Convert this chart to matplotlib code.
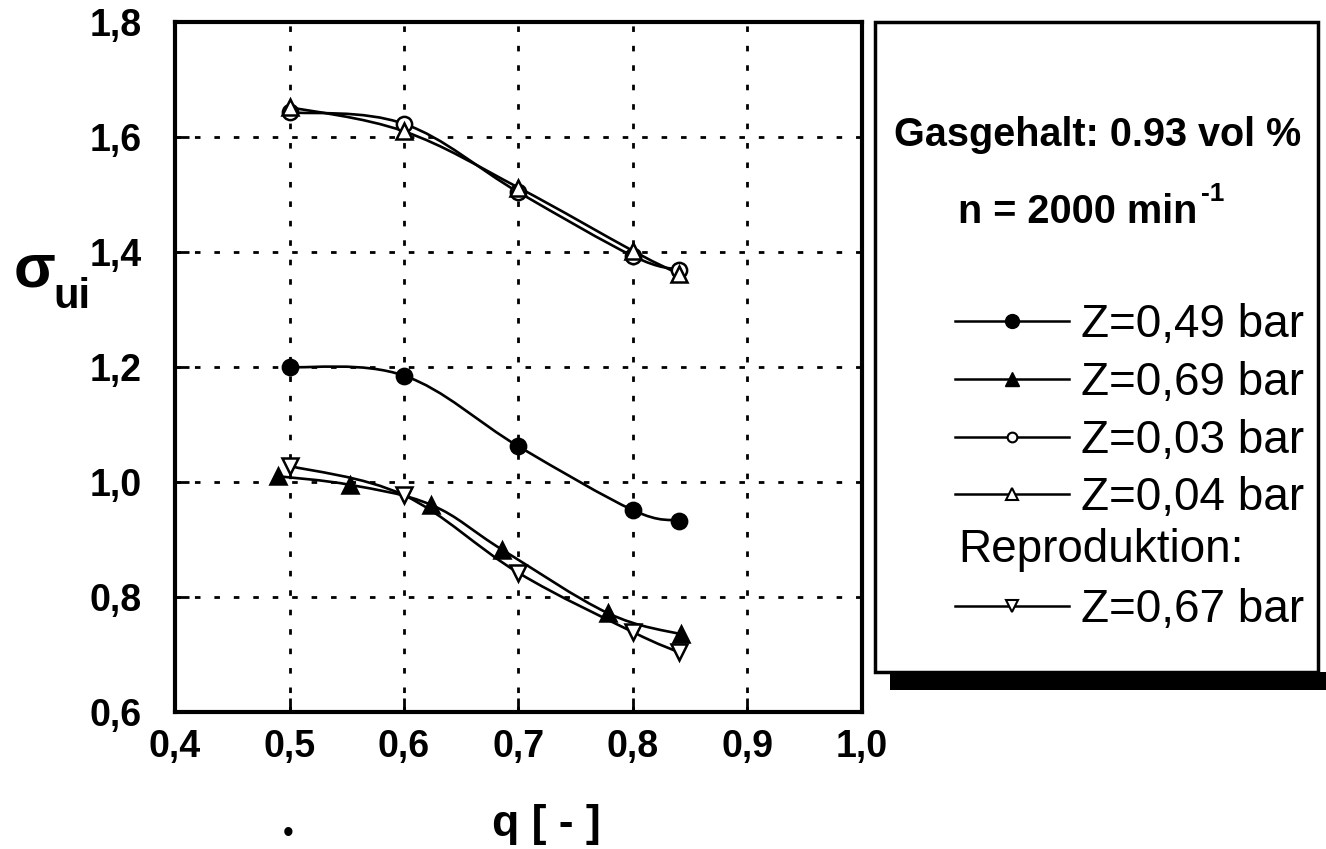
import matplotlib
matplotlib.use("Agg")
import matplotlib.pyplot as plt
from matplotlib.lines import Line2D
from matplotlib.patches import Rectangle, PathPatch
from matplotlib.path import Path

plt.rcParams['font.family'] = ['Liberation Sans', 'DejaVu Sans']

# values
q_049 = [0.50, 0.60, 0.70, 0.80, 0.84]
s_049 = [1.20, 1.185, 1.062, 0.951, 0.933]

q_069 = [0.49, 0.553, 0.624, 0.686, 0.778, 0.842]
s_069 = [1.010, 0.995, 0.960, 0.882, 0.772, 0.735]

q_003 = [0.50, 0.60, 0.70, 0.80, 0.84]
s_003 = [1.643, 1.623, 1.504, 1.393, 1.369]

q_004 = [0.50, 0.60, 0.70, 0.80, 0.84]
s_004 = [1.652, 1.610, 1.512, 1.402, 1.362]

q_067 = [0.50, 0.60, 0.70, 0.80, 0.84]
s_067 = [1.028, 0.977, 0.842, 0.739, 0.704]

xticks = [0.4, 0.5, 0.6, 0.7, 0.8, 0.9, 1.0]
yticks = [0.6, 0.8, 1.0, 1.2, 1.4, 1.6, 1.8]


def smooth_path(x, y, t=0.18):
    # cubic bezier through the points (Catmull-Rom style tangents)
    verts = [(x[0], y[0])]
    codes = [Path.MOVETO]
    n = len(x)
    for i in range(n - 1):
        x0, y0 = (x[i - 1], y[i - 1]) if i > 0 else (x[i], y[i])
        x3, y3 = (x[i + 2], y[i + 2]) if i + 2 < n else (x[i + 1], y[i + 1])
        c1 = (x[i] + t * (x[i + 1] - x0), y[i] + t * (y[i + 1] - y0))
        c2 = (x[i + 1] - t * (x3 - x[i]), y[i + 1] - t * (y3 - y[i]))
        verts += [c1, c2, (x[i + 1], y[i + 1])]
        codes += [Path.CURVE4] * 3
    return Path(verts, codes)


fig = plt.figure(figsize=(13.26, 8.49), dpi=100)
ax = fig.add_axes([0.132, 0.1614, 0.518, 0.8126])

lw = 1.9
ms = 11
series = [
    (q_003, s_003, 'o', 'white'),
    (q_004, s_004, '^', 'white'),
    (q_049, s_049, 'o', 'k'),
    (q_067, s_067, 'v', 'white'),
    (q_069, s_069, '^', 'k'),
]
for i, (qx, sy, m, fc) in enumerate(series):
    ax.add_patch(PathPatch(smooth_path(qx, sy), facecolor='none', edgecolor='k', lw=lw, zorder=3))
    ax.plot(qx, sy, linestyle='none', marker=m, ms=ms, mfc=fc, mec='k', mew=1.8, zorder=4 + i)

ax.set_xlim(0.4, 1.0)
ax.set_ylim(0.6, 1.8)
ax.set_xticks(xticks)
ax.set_yticks(yticks)
ax.set_xticklabels([f"{v:.1f}".replace('.', ',') for v in xticks], fontsize=27, fontweight='bold')
ax.set_yticklabels([f"{v:.1f}".replace('.', ',') for v in yticks], fontsize=27, fontweight='bold')
ax.tick_params(direction='in', length=10, width=2, pad=12)
ax.tick_params(axis='y', pad=24)
ax.grid(True, color='k', lw=2, linestyle=(0, (2, 5)))
for sp in ax.spines.values():
    sp.set_linewidth(3)

# axis labels
fig.text(0.010, 0.662, "σ", fontsize=44, fontweight='bold', va='baseline')
fig.text(0.040, 0.637, "ui", fontsize=30, fontweight='bold', va='baseline')
fig.text(0.412, 0.015, "q [ - ]", fontsize=32, fontweight='bold', ha='center')
fig.text(0.217, 0.008, "•", fontsize=22, ha='center')

# legend panel with shadow
fig.patches.append(Rectangle((890 / 1326, 1 - 690 / 849), 436 / 1326, 18 / 849,
                             transform=fig.transFigure, facecolor='k', edgecolor='none', zorder=1))
fig.patches.append(Rectangle((875 / 1326, 1 - 672 / 849), 443 / 1326, 650 / 849,
                             transform=fig.transFigure, facecolor='white', edgecolor='k', lw=2.5, zorder=2))

fig.text(0.828, 0.841, "Gasgehalt: 0.93 vol %", fontsize=28.5, fontweight='bold', ha='center', va='center')
fig.text(0.7225, 0.750, "n = 2000 min", fontsize=28.5, fontweight='bold', ha='left', va='center')
fig.text(0.906, 0.772, "-1", fontsize=19, fontweight='bold', ha='left', va='center')

handles1 = [
    Line2D([], [], color='k', lw=1.8, marker='o', ms=10, mfc='k', mec='k'),
    Line2D([], [], color='k', lw=1.8, marker='^', ms=10, mfc='k', mec='k'),
    Line2D([], [], color='k', lw=1.8, marker='o', ms=7, mfc='white', mec='k', mew=1.5),
    Line2D([], [], color='k', lw=1.8, marker='^', ms=8, mfc='white', mec='k', mew=1.5),
]
labels1 = ["Z=0,49 bar", "Z=0,69 bar", "Z=0,03 bar", "Z=0,04 bar"]
leg_kw = dict(loc='upper left', frameon=False, fontsize=33, handlelength=2.5, handletextpad=0.25,
              labelspacing=0.3, borderaxespad=0, borderpad=0)
leg1 = fig.legend(handles1, labels1, bbox_to_anchor=(0.720, 0.643), **leg_kw)
leg1.set_zorder(5)

fig.text(0.7225, 0.352, "Reproduktion:", fontsize=33, va='center', zorder=5)

handles2 = [Line2D([], [], color='k', lw=1.8, marker='v', ms=9, mfc='white', mec='k', mew=1.5)]
leg2 = fig.legend(handles2, ["Z=0,67 bar"], bbox_to_anchor=(0.720, 0.307), **leg_kw)
leg2.set_zorder(5)

fig.savefig("out.png", dpi=100)
